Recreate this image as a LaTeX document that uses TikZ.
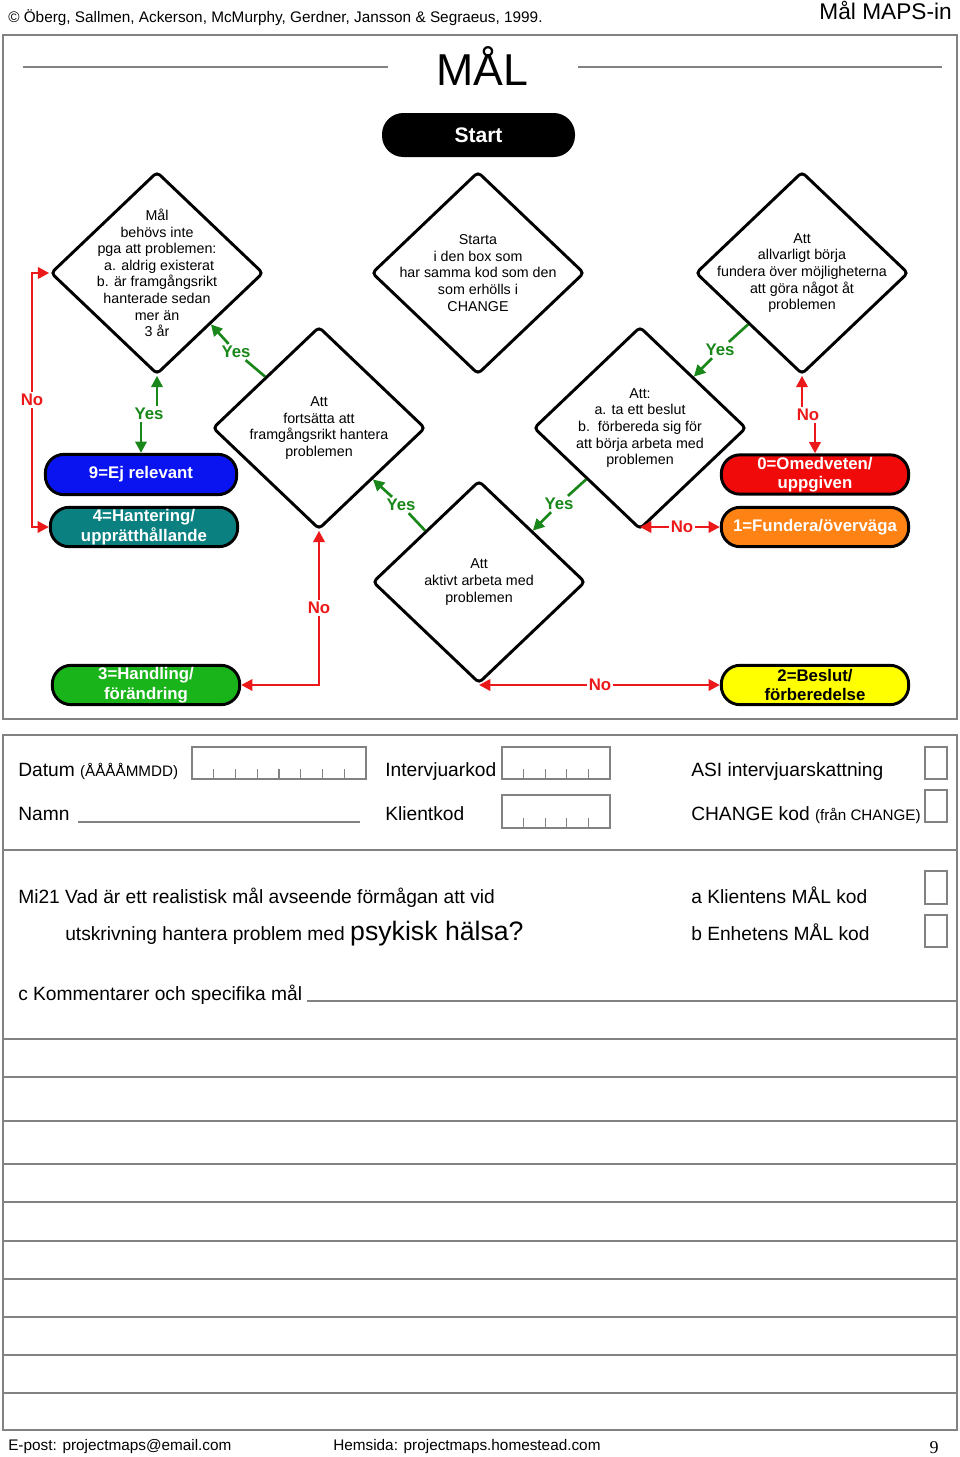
\documentclass[tikz,border=0pt]{standalone}
\usepackage{fontspec}
\setmainfont{Liberation Sans}
\newfontfamily\pagenofont{Liberation Serif}
\usepackage{xcolor}
\usepackage{tikz}
\usetikzlibrary{arrows.meta,shapes.geometric}

\definecolor{yesgreen}{RGB}{25,135,25}
\definecolor{nored}{RGB}{235,25,25}
\definecolor{framegray}{RGB}{130,130,130}
\definecolor{termblue}{RGB}{10,20,240}
\definecolor{termteal}{RGB}{10,128,128}
\definecolor{termred}{RGB}{240,10,10}
\definecolor{termorange}{RGB}{255,130,20}
\definecolor{termgreen}{RGB}{25,180,25}
\definecolor{termyellow}{RGB}{255,255,0}

\tikzset{
  decision/.style={diamond, draw, line width=2.2pt, rounded corners=3pt, minimum width=159.5pt, minimum height=152pt, inner sep=0pt},
  dectext/.style={align=center, inner sep=0pt, font=\fontsize{10.7}{12.45}\selectfont},
  stage/.style={draw, line width=2.2pt, rounded corners=14pt, minimum width=140.5pt, minimum height=29.5pt, inner sep=0pt, align=center, text=white, font=\fontsize{12.6}{14.6}\selectfont\bfseries},
  yeslabel/.style={text=yesgreen, inner sep=1.5pt, font=\fontsize{12.6}{14}\selectfont\bfseries},
  nolabel/.style={text=nored, inner sep=1.5pt, font=\fontsize{12.6}{14}\selectfont\bfseries},
  yesline/.style={draw=yesgreen, line width=2pt},
  noline/.style={draw=nored, line width=2pt},
  arrowend/.style={-{Triangle[length=8.5pt,width=8.5pt]}},
  formtext/.style={anchor=base west, inner sep=0pt, font=\fontsize{14.4}{16}\selectfont},
  frameline/.style={draw=framegray, line width=1.3pt},
  fieldbox/.style={draw=framegray, line width=1pt},
}

\begin{document}
\begin{tikzpicture}[x=0.75pt,y=0.75pt,yscale=-1,xscale=1]
\useasboundingbox (0,0) rectangle (960,1457);

% Header
\node[anchor=base west, inner sep=0pt, font=\fontsize{11.5}{13}\selectfont] (copyr) at (8,22) {© Öberg, Sallmen, Ackerson, McMurphy, Gerdner, Jansson \& Segraeus, 1999.};
\node[anchor=base east, inner sep=0pt, font=\fontsize{17}{19}\selectfont] (maps) at (952,19) {Mål MAPS-in};

%Rect flowchart frame
\draw[frameline] (3,35) rectangle (957,719);
% Title
\node[anchor=base, inner sep=0pt, font=\fontsize{33.5}{36}\selectfont] (title) at (482,85) {MÅL};
\draw[draw=framegray, line width=0.8pt] (23,67) -- (388,67);
\draw[draw=framegray, line width=0.8pt] (578,67) -- (942,67);

% Start
\node[fill=black, text=white, rounded corners=16pt, minimum width=144.75pt, minimum height=33pt, font=\fontsize{15.8}{18}\selectfont\bfseries] (start) at (478.5,135) {Start};

% Decisions
\node[decision] (dbehov) at (157,273) {};
\node[decision] (dstart) at (478,273) {};
\node[decision] (dfund) at (802,273) {};
\node[decision] (dforts) at (319,428) {};
\node[decision] (dbesl) at (640,428) {};
\node[decision] (daktiv) at (479,582) {};

% Text Node
\node[dectext] (tbehov) at (dbehov.center) {Mål\\behövs inte\\pga att problemen:\\\hspace*{0.3em}a. aldrig existerat\\b. är framgångsrikt\\hanterade sedan\\mer än\\3 år};
\node[dectext] (tstart) at (dstart.center) {Starta\\i den box som\\har samma kod som den\\som erhölls i\\CHANGE};
\node[dectext] (tfund) at (dfund.center) {Att\\allvarligt börja\\fundera över möjligheterna\\att göra något åt\\problemen};
\node[dectext] (tforts) at (dforts.center) {Att\\fortsätta att\\framgångsrikt hantera\\problemen};
\node[dectext] (tbesl) at (dbesl.center) {Att:\\a. ta ett beslut\\b.\ \ förbereda sig för\\att börja arbeta med\\problemen};
\node[dectext] (taktiv) at (daktiv.center) {Att\\aktivt arbeta med\\problemen};

% Stages
\node[stage, fill=termblue, minimum width=143.5pt, minimum height=30.25pt] (ejrel) at (141,474.5) {9=Ej relevant};
\node[stage, fill=termteal] (hant) at (144,527) {4=Hantering/\\upprätthållande};
\node[stage, fill=termred] (omed) at (815,474.5) {0=Omedveten/\\uppgiven};
\node[stage, fill=termorange] (overv) at (815,527) {1=Fundera/överväga};
\node[stage, fill=termgreen] (handl) at (146,685) {3=Handling/\\förändring};
\node[stage, fill=termyellow, text=black] (forb) at (815,685) {2=Beslut/\\förberedelse};

% Yes labels
\node[yeslabel] (yes1) at (236,352) {Yes};
\node[yeslabel] (yes2) at (720,350) {Yes};
\node[yeslabel] (yes3) at (401,505) {Yes};
\node[yeslabel] (yes4) at (559,504) {Yes};
\node[yeslabel] (yes5) at (149,414) {Yes};
% No labels
\node[nolabel] (no1) at (32,400) {No};
\node[nolabel] (no2) at (808,415) {No};
\node[nolabel] (no3) at (682,527) {No};
\node[nolabel] (no4) at (319,608) {No};
\node[nolabel] (no5) at (600,685) {No};

%Straight Lines yes
\draw[yesline] (dforts.north west) -- (yes1);
\draw[yesline, arrowend] (yes1) -- (dbehov.south east);
\draw[yesline] (dfund.south west) -- (yes2);
\draw[yesline, arrowend] (yes2) -- (dbesl.north east);
\draw[yesline] (daktiv.north west) -- (yes3);
\draw[yesline, arrowend] (yes3) -- (dforts.south east);
\draw[yesline] (dbesl.south west) -- (yes4);
\draw[yesline, arrowend] (yes4) -- (daktiv.north east);
\draw[yesline, arrowend] (yes5.north -| dbehov.south) -- (dbehov.south);
\draw[yesline, arrowend] (yes5.south -| ejrel.north) -- (ejrel.north);

%Straight Lines no
\draw[noline, arrowend] (no1.north) |- (dbehov.west);
\draw[noline, arrowend] (no1.south) |- (hant.west);
\draw[noline, arrowend] (no2.north -| dfund.south) -- (dfund.south);
\draw[noline, arrowend] (no2.south -| omed.north) -- (omed.north);
\draw[noline, arrowend] (no3.west) -- (no3.west -| dbesl.south);
\draw[noline, arrowend] (no3.east) -- (overv.west);
\draw[noline, arrowend] (no4.north) -- (dforts.south);
\draw[noline, arrowend] (no4.south) |- (handl.east);
\draw[noline, arrowend] (no5.west) -- (no5.west -| daktiv.south);
\draw[noline, arrowend] (no5.east) -- (forb.west);

%Rect form frame
\draw[frameline] (3,735) rectangle (957,1430);
\draw[frameline] (3,850) -- (957,850);

% Text Node
\node[formtext] (datum) at (18,776) {Datum {\fontsize{11.4}{13}\selectfont(ÅÅÅÅMMDD)}};
\node[formtext] (intkod) at (385,776) {Intervjuarkod};
\node[formtext] (asi) at (691,776) {ASI intervjuarskattning};
\node[formtext] (namn) at (18,820) {Namn};
\node[formtext] (klkod) at (385,820) {Klientkod};
\node[formtext] (chkod) at (691,820) {CHANGE kod {\fontsize{11.4}{13}\selectfont(från CHANGE)}};
\node[formtext] (mi21) at (18,903) {Mi21 Vad är ett realistisk mål avseende förmågan att vid};
\node[formtext] (mi21b) at (65,940) {utskrivning hantera problem med {\fontsize{20}{22}\selectfont psykisk hälsa?}};
\node[formtext] (klmal) at (691,903) {a Klientens MÅL kod};
\node[formtext] (enmal) at (691,940) {b Enhetens MÅL kod};
\node[formtext] (komm) at (18,1000) {c Kommentarer och specifika mål};

% Fields
\draw[fieldbox] (192,747) rectangle (366,779);
\foreach \k in {1,...,7} \draw[fieldbox] ({192+21.75*\k},779) -- ++(0,-10);
\draw[fieldbox] (502,747) rectangle (610,779);
\foreach \k in {1,...,4} \draw[fieldbox] ({502+21.6*\k},779) -- ++(0,-10);
\draw[fieldbox] (502,795) rectangle (610,828);
\foreach \k in {1,...,4} \draw[fieldbox] ({502+21.6*\k},828) -- ++(0,-10);
\draw[fieldbox] (925,747) rectangle (947,779);
\draw[fieldbox] (925,790) rectangle (947,822);
\draw[fieldbox] (925,871) rectangle (947,904);
\draw[fieldbox] (925,915) rectangle (947,947);
\draw[fieldbox] (78,822) -- (360,822);
\draw[fieldbox] (307,1001) -- (957,1001);

%Straight Lines comment rows
\foreach \y in {1039,1077,1121,1164,1202,1241,1279,1317,1355,1393} \draw[frameline] (3,\y) -- (957,\y);

% Footer
\node[anchor=base west, inner sep=0pt, font=\fontsize{11.5}{13}\selectfont] (epost) at (8,1450) {E-post: projectmaps@email.com};
\node[anchor=base west, inner sep=0pt, font=\fontsize{11.5}{13}\selectfont] (hemsida) at (333,1450) {Hemsida: projectmaps.homestead.com};
\node[anchor=base east, inner sep=0pt, font=\pagenofont\fontsize{13.5}{15}\selectfont] (pageno) at (939,1453) {9};
\end{tikzpicture}
\end{document}
